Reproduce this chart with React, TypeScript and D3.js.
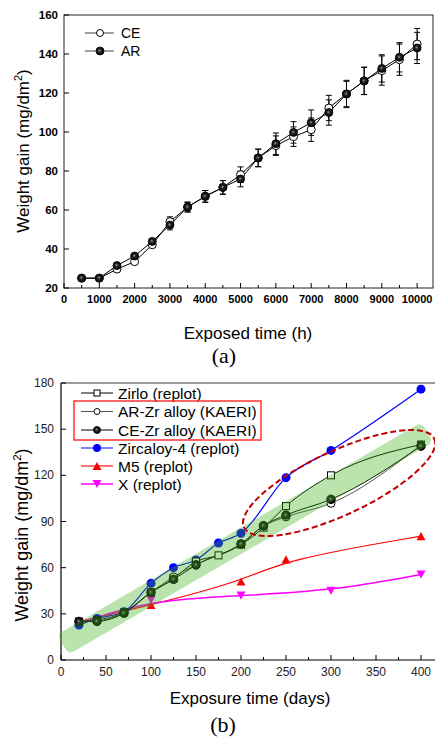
import React from "react";
import * as d3 from "d3";

// ---- chart (a) data ----
const hours = [500, 1000, 1500, 2000, 2500, 3000, 3500, 4000, 4500, 5000, 5500, 6000, 6500, 7000, 7500, 8000, 8500, 9000, 9500, 10000];
const ceGain = [25, 25, 29.7, 33.5, 42.2, 54, 61.5, 67, 71.6, 78.1, 86.7, 93, 97.6, 101.2, 112.3, 119.5, 126.2, 131.5, 137.1, 145.1];
const arGain = [25.1, 25.1, 31.5, 36.4, 43.9, 52.3, 61.5, 67, 71.6, 75.9, 86.7, 94, 99.8, 104.8, 110, 119.5, 126.2, 132.6, 138.3, 143.1];
const ceErr = [0.5, 0.5, 1, 1, 1.5, 2.5, 2.5, 3, 3.5, 4, 4.5, 5, 5, 6, 6.5, 6.5, 7, 7.5, 8, 8];
const arErr = [0.5, 0.5, 1, 1, 1.5, 2.5, 2.5, 3, 3.5, 4, 4.5, 5.5, 5.5, 6.5, 6.5, 7, 7, 7, 7.5, 8];
const hourTicks = [0, 1000, 2000, 3000, 4000, 5000, 6000, 7000, 8000, 9000, 10000];
const gainTicksA = [20, 40, 60, 80, 100, 120, 140, 160];

// ---- chart (b) data ----
const zirloDays = [20, 40, 70, 100, 125, 150, 175, 200, 225, 250, 300, 400];
const zirloGain = [25, 26, 31, 44, 53, 64, 68, 75, 86, 100, 120, 140];
const kaeriDays = [20, 40, 70, 100, 125, 150, 200, 225, 250, 300, 400];
const arZrGain = [25, 25.5, 30.5, 44, 54, 62, 75.5, 87, 93, 101.8, 139.7];
const ceZrGain = [25, 25.1, 30.4, 43.9, 52.4, 61.7, 75.4, 87.3, 94.2, 104.4, 139];
const zry4Days = [20, 40, 70, 100, 125, 150, 175, 200, 250, 300, 400];
const zry4Gain = [22.7, 27, 31.4, 49.8, 60, 65, 76, 82.3, 118.5, 136.2, 176];
const m5Days = [20, 100, 200, 250, 400];
const m5Gain = [25, 35.7, 51, 65.4, 80.5];
const xDays = [20, 100, 200, 300, 400];
const xGain = [24, 39, 41.8, 45, 55.6];
const dayTicks = [0, 50, 100, 150, 200, 250, 300, 350, 400];
const gainTicksB = [0, 30, 60, 90, 120, 150, 180];
const legendLabels = ["Zirlo (replot)", "AR-Zr alloy (KAERI)", "CE-Zr alloy (KAERI)", "Zircaloy-4 (replot)", "M5 (replot)", "X (replot)"];
const bandStart = [2, 10];
const bandEnd = [407, 148];
const ellipseCenter = [309, 115];

const sans = "'Liberation Sans', Arial, sans-serif";
const serif = "'Liberation Serif', 'Times New Roman', serif";

type Pt = [number, number];
const zip = (xs: number[], ys: number[]): Pt[] => xs.map((x, i) => [x, ys[i]]);

function Sphere({ x, y, r }: { x: number; y: number; r: number }) {
  return <circle cx={x} cy={y} r={r} fill="url(#sphere)" stroke="#000" strokeWidth={0.8} />;
}

function Square({ x, y, s, color }: { x: number; y: number; s: number; color: string }) {
  return <rect x={x - s / 2} y={y - s / 2} width={s} height={s} fill="#fff" stroke={color} strokeWidth={1} />;
}

function Tri({ x, y, s, color, down }: { x: number; y: number; s: number; color: string; down?: boolean }) {
  const h = s * 0.9;
  const p = down
    ? `M${x - s / 2},${y - h / 2}L${x + s / 2},${y - h / 2}L${x},${y + h / 2}Z`
    : `M${x - s / 2},${y + h / 2}L${x + s / 2},${y + h / 2}L${x},${y - h / 2}Z`;
  return <path d={p} fill={color} />;
}

function ChartA() {
  const x = d3.scaleLinear().domain([0, 10450]).range([64, 433]);
  const y = d3.scaleLinear().domain([20, 160]).range([288, 15]);
  const line = d3.line<Pt>().x((d) => x(d[0])).y((d) => y(d[1]));
  const minor = d3.range(500, 10500, 1000);
  const err = (vals: number[], errs: number[], key: string) =>
    hours.map((h, i) => {
      const cx = x(h);
      const t = y(vals[i] + errs[i]);
      const b = y(vals[i] - errs[i]);
      return (
        <g key={key + i} stroke="#000" strokeWidth={1}>
          <line x1={cx} x2={cx} y1={t} y2={b} />
          <line x1={cx - 3} x2={cx + 3} y1={t} y2={t} />
          <line x1={cx - 3} x2={cx + 3} y1={b} y2={b} />
        </g>
      );
    });
  return (
    <g>
      <rect x={64} y={15} width={369} height={273} fill="none" stroke="#222" strokeWidth={1} />
      {hourTicks.map((t) => (
        <g key={"xt" + t}>
          <line x1={x(t)} x2={x(t)} y1={288} y2={283} stroke="#000" />
          <text x={x(t)} y={303} textAnchor="middle" fontFamily={sans} fontWeight="bold" fontSize={11}>{t}</text>
        </g>
      ))}
      {minor.map((t) => (
        <line key={"xm" + t} x1={x(t)} x2={x(t)} y1={288} y2={285} stroke="#000" />
      ))}
      {gainTicksA.map((t) => (
        <g key={"yt" + t}>
          <line x1={64} x2={69} y1={y(t)} y2={y(t)} stroke="#000" />
          <text x={58} y={y(t) + 4} textAnchor="end" fontFamily={sans} fontWeight="bold" fontSize={11.5}>{t}</text>
        </g>
      ))}
      <text x={248} y={339} textAnchor="middle" fontFamily={sans} fontSize={17}>Exposed time (h)</text>
      <text transform="translate(29,151) rotate(-90)" textAnchor="middle" fontFamily={sans} fontSize={17}>
        Weight gain (mg/dm<tspan fontSize={11} dy={-7}>2</tspan><tspan dy={7}>)</tspan>
      </text>
      {err(ceGain, ceErr, "ce")}
      {err(arGain, arErr, "ar")}
      <path d={line(zip(hours, ceGain)) || ""} fill="none" stroke="#000" strokeWidth={1} />
      <path d={line(zip(hours, arGain)) || ""} fill="none" stroke="#000" strokeWidth={1} />
      {hours.map((h, i) => (
        <circle key={"ce" + i} cx={x(h)} cy={y(ceGain[i])} r={4} fill="#fff" stroke="#000" strokeWidth={1} />
      ))}
      {hours.map((h, i) => (
        <Sphere key={"ar" + i} x={x(h)} y={y(arGain[i])} r={4} />
      ))}
      {/* legend */}
      <line x1={85} x2={114} y1={33} y2={33} stroke="#444" />
      <circle cx={100} cy={33} r={3.5} fill="#fff" stroke="#000" />
      <text x={121} y={38} fontFamily={sans} fontSize={14}>CE</text>
      <line x1={85} x2={114} y1={51} y2={51} stroke="#444" />
      <Sphere x={100} y={51} r={4} />
      <text x={121} y={56} fontFamily={sans} fontSize={14}>AR</text>
      <text x={224} y={363} textAnchor="middle" fontFamily={serif} fontSize={22}>(a)</text>
    </g>
  );
}

function ChartB() {
  const x = d3.scaleLinear().domain([0, 415]).range([61, 434.5]);
  const y = d3.scaleLinear().domain([0, 180]).range([660, 383]);
  const smooth = d3.line<Pt>().x((d) => x(d[0])).y((d) => y(d[1])).curve(d3.curveMonotoneX);
  const fitted = d3.line<Pt>().x((d) => x(d[0])).y((d) => y(d[1])).curve(d3.curveBasis);
  const minor = d3.range(25, 415, 50);
  const bx0 = x(bandStart[0]), by0 = y(bandStart[1]);
  const bx1 = x(bandEnd[0]), by1 = y(bandEnd[1]);
  const bandLen = Math.hypot(bx1 - bx0, by1 - by0);
  const bandAng = (Math.atan2(by1 - by0, bx1 - bx0) * 180) / Math.PI;
  const bandW = 23;
  const ex = x(ellipseCenter[0]);
  const ey = y(ellipseCenter[1]);
  const legendY = [393, 411.5, 430, 448, 466, 484];
  return (
    <g>
      <line x1={61} x2={435} y1={383} y2={383} stroke="#777" strokeWidth={1.5} />
      <line x1={61} x2={61} y1={383} y2={660} stroke="#000" strokeWidth={1.2} />
      <line x1={61} x2={435} y1={660} y2={660} stroke="#000" strokeWidth={1.2} />
      {dayTicks.map((t) => (
        <g key={"bx" + t}>
          <line x1={x(t)} x2={x(t)} y1={660} y2={655} stroke="#000" />
          <text x={x(t)} y={676} textAnchor="middle" fontFamily={sans} fontSize={12} fill="#222">{t}</text>
        </g>
      ))}
      {minor.map((t) => (
        <line key={"bm" + t} x1={x(t)} x2={x(t)} y1={660} y2={657} stroke="#000" />
      ))}
      {gainTicksB.map((t) => (
        <g key={"by" + t}>
          <line x1={61} x2={66} y1={y(t)} y2={y(t)} stroke="#000" />
          <text x={54} y={y(t) + 4} textAnchor="end" fontFamily={sans} fontSize={12} fill="#222">{t}</text>
        </g>
      ))}
      <text x={250} y={704} textAnchor="middle" fontFamily={sans} fontSize={17}>Exposure time (days)</text>
      <text transform="translate(28,535) rotate(-90)" textAnchor="middle" fontFamily={sans} fontSize={18}>
        Weight gain (mg/dm<tspan fontSize={11.5} dy={-7}>2</tspan><tspan dy={7}>)</tspan>
      </text>

      {/* series */}
      <path d={fitted(zip(m5Days, m5Gain)) || ""} fill="none" stroke="#ff0000" strokeWidth={1.2} />
      <path d={fitted(zip(xDays, xGain)) || ""} fill="none" stroke="#ff00ff" strokeWidth={1.5} />
      <path d={smooth(zip(zry4Days, zry4Gain)) || ""} fill="none" stroke="#0000ff" strokeWidth={1.2} />
      <path d={smooth(zip(zirloDays, zirloGain)) || ""} fill="none" stroke="#000" strokeWidth={1} />
      <path d={smooth(zip(kaeriDays, arZrGain)) || ""} fill="none" stroke="#555" strokeWidth={1} />
      <path d={smooth(zip(kaeriDays, ceZrGain)) || ""} fill="none" stroke="#000" strokeWidth={1} />
      {m5Days.map((d, i) => (
        <Tri key={"m5" + i} x={x(d)} y={y(m5Gain[i])} s={9} color="#ff0000" />
      ))}
      {xDays.map((d, i) => (
        <Tri key={"xx" + i} x={x(d)} y={y(xGain[i])} s={9} color="#ff00ff" down />
      ))}
      {zry4Days.map((d, i) => (
        <circle key={"z4" + i} cx={x(d)} cy={y(zry4Gain[i])} r={4.5} fill="#0000ff" />
      ))}
      {zirloDays.map((d, i) => (
        <Square key={"zl" + i} x={x(d)} y={y(zirloGain[i])} s={7} color="#000" />
      ))}
      {kaeriDays.map((d, i) => (
        <circle key={"arz" + i} cx={x(d)} cy={y(arZrGain[i])} r={4} fill="#fff" stroke="#000" />
      ))}
      {kaeriDays.map((d, i) => (
        <Sphere key={"cez" + i} x={x(d)} y={y(ceZrGain[i])} r={4.3} />
      ))}

      {/* green band over the KAERI data */}
      <rect
        x={0}
        y={-bandW / 2}
        width={bandLen}
        height={bandW}
        rx={6}
        transform={`translate(${bx0},${by0}) rotate(${bandAng})`}
        fill="rgb(60,175,20)"
        fillOpacity={0.35}
      />
      <ellipse
        cx={0}
        cy={0}
        rx={105}
        ry={32}
        transform={`translate(${ex},${ey}) rotate(-25)`}
        fill="none"
        stroke="#c00000"
        strokeWidth={2}
        strokeDasharray="6,3"
      />

      {/* legend */}
      <line x1={81} x2={113} y1={legendY[0]} y2={legendY[0]} stroke="#000" />
      <Square x={97} y={legendY[0]} s={6} color="#000" />
      <line x1={81} x2={113} y1={legendY[1]} y2={legendY[1]} stroke="#555" />
      <circle cx={97} cy={legendY[1]} r={3} fill="#fff" stroke="#000" />
      <line x1={81} x2={113} y1={legendY[2]} y2={legendY[2]} stroke="#000" />
      <Sphere x={97} y={legendY[2]} r={3.5} />
      <line x1={81} x2={113} y1={legendY[3]} y2={legendY[3]} stroke="#0000ff" />
      <circle cx={97} cy={legendY[3]} r={4} fill="#0000ff" />
      <line x1={81} x2={113} y1={legendY[4]} y2={legendY[4]} stroke="#ff4444" strokeWidth={1.5} />
      <Tri x={97} y={legendY[4]} s={9} color="#ff0000" />
      <line x1={81} x2={113} y1={legendY[5]} y2={legendY[5]} stroke="#ff00ff" strokeWidth={1.5} />
      <Tri x={97} y={legendY[5]} s={9} color="#ff00ff" down />
      {legendLabels.map((t, i) => (
        <text key={t} x={118} y={legendY[i] + 5.5} fontFamily={sans} fontSize={15.5}>{t}</text>
      ))}
      <rect x={74} y={401} width={187} height={39} fill="none" stroke="#ff3333" strokeWidth={1.5} />
      <text x={223} y={732} textAnchor="middle" fontFamily={serif} fontSize={22}>(b)</text>
    </g>
  );
}

export default function App() {
  return (
    <svg width={435} height={738} style={{ position: "absolute", left: 0, top: 0, background: "#fff" }}>
      <defs>
        <radialGradient id="sphere" cx="45%" cy="45%" r="60%">
          <stop offset="0%" stopColor="#999" />
          <stop offset="35%" stopColor="#222" />
          <stop offset="100%" stopColor="#000" />
        </radialGradient>
      </defs>
      <ChartA />
      <ChartB />
    </svg>
  );
}
